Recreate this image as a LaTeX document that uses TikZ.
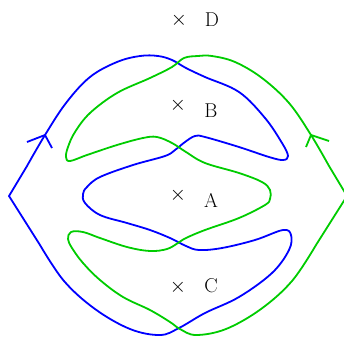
\documentclass[tikz,border=0pt]{standalone}
\definecolor{bcol}{RGB}{0,0,255}
\definecolor{gcol}{RGB}{0,204,0}
\begin{document}
\begin{tikzpicture}[x=1pt,y=-1pt,
  bluecurve/.style={draw=bcol, line width=1.8pt, line join=round},
  greencurve/.style={draw=gcol, line width=1.8pt, line join=round},
  lbl/.style={font=\fontsize{20}{24}\selectfont, inner sep=0pt}]
\useasboundingbox (0,0) rectangle (344,338);
% blue closed curve
\draw[bluecurve] (9,196) -- plot[smooth, tension=0.6] coordinates {
 (27,166) (45,135) (66,103) (90,77) (117,62) (140,56) (158,56) (172,60) (186,68)
 (205,77) (239,92) (265,118) (282,143) (288,156) (283,160) (269,157) (239,147)
 (205,137) (195,136) (185,142) (175,150) (165,156) (133,165) (100,177) (87,187)
 (83,194) (85,203) (100,215) (127,223) (150,230) (170,238) (186,246) (199,250) (222,248)
 (255,240) (283,230) (291,235) (289,250) (272,273) (239,297) (205,313) (179,328)
 (160,335) (130,329) (95,309) (64,281) (40,245)} -- cycle;
% green closed curve
\draw[greencurve] (347,196) -- plot[smooth, tension=0.6] coordinates {
 (329,166) (311,135) (289,103) (262,78) (235,62) (212,56) (198,56) (184,58) (172,67)
 (150,78) (117,93) (90,113) (75,132) (68,147) (66,157) (70,161) (87,155)
 (117,145) (143,138) (157,137) (172,143) (186,152) (205,163) (239,173) (262,182)
 (270,190) (270,199) (265,205) (239,218) (205,230) (186,238) (178,243) (167,249) (150,251)
 (127,247) (100,238) (83,232) (71,232) (68,239) (72,248) (83,263) (100,280) (123,297)
 (150,310) (170,322) (180,329) (196,335) (226,329) (261,309) (292,281) (316,245)} -- cycle;
% arrowheads
\coordinate (ba) at (45,135);
\coordinate (ga) at (311,135);
\draw[bluecurve] (ba) ++(-18,7) -- (ba) -- ++(7,13);
\draw[greencurve] (ga) ++(18,6) -- (ga) -- ++(-5,12);
% marks and labels
\node[lbl] (xD) at (179,20) {$\times$};
\node[lbl] (D) at (212,20) {D};
\node[lbl] (xB) at (178,105) {$\times$};
\node[lbl] (B) at (211,111) {B};
\node[lbl] (xA) at (178,195) {$\times$};
\node[lbl] (A) at (211,200) {A};
\node[lbl] (xC) at (178,287) {$\times$};
\node[lbl] (C) at (211,286) {C};
\end{tikzpicture}
\end{document}
